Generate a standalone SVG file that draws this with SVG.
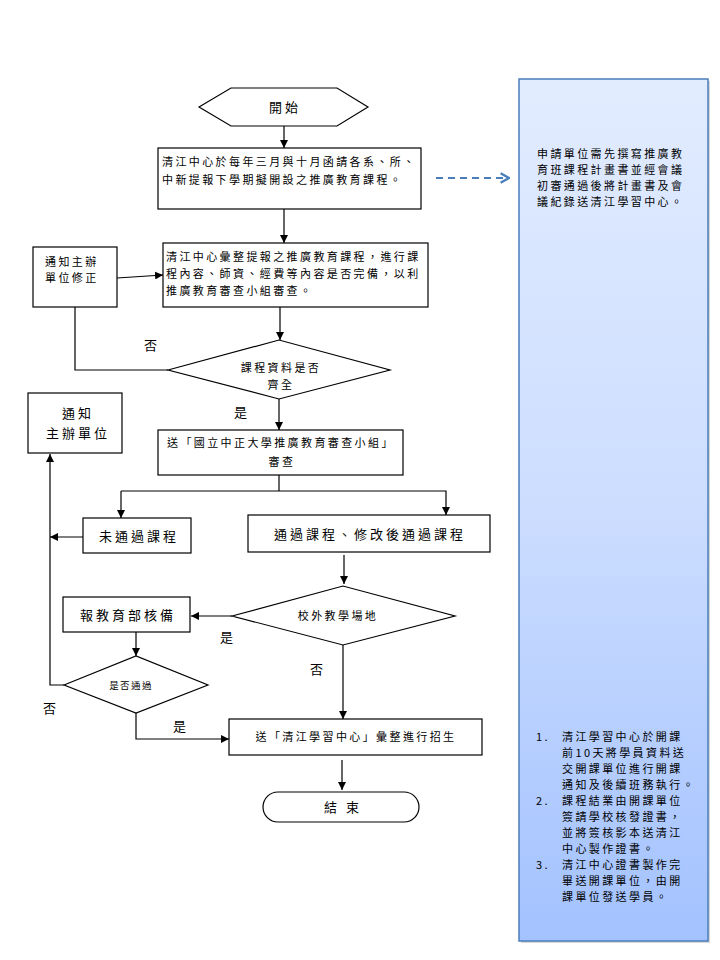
<svg xmlns="http://www.w3.org/2000/svg" width="720" height="960" viewBox="0 0 720 960">
<defs>
<style>
.t{font-family:"Noto Sans CJK TC","Noto Sans CJK SC",sans-serif;font-size:11px;letter-spacing:2.4px;fill:#000}
.m{font-size:13px;letter-spacing:3px}
.s{font-size:9.5px;letter-spacing:1.4px}
.box{fill:#fff;stroke:#000;stroke-width:1.2}
.ln{fill:none;stroke:#000;stroke-width:1.2}
</style>
<marker id="ah" viewBox="0 0 10 10" refX="10" refY="5" markerWidth="8" markerHeight="8" markerUnits="userSpaceOnUse" orient="auto">
<path d="M0,0 L10,5 L0,10 z" fill="#000"/>
</marker>
<marker id="oh" viewBox="0 0 10 10" refX="9" refY="5" markerWidth="12" markerHeight="12" markerUnits="userSpaceOnUse" orient="auto">
<path d="M2,1 L9,5 L2,9" fill="none" stroke="#4A7EBB" stroke-width="2"/>
</marker>
<linearGradient id="pg" x1="0" y1="0" x2="0" y2="1">
<stop offset="0" stop-color="#E2ECFF"/>
<stop offset="0.5" stop-color="#CCDDFF"/>
<stop offset="1" stop-color="#A3C2FF"/>
</linearGradient>
</defs>
<rect width="720" height="960" fill="#fff"/>

<g id="panel">
<rect x="521" y="81" width="189" height="862" fill="#bbb" opacity="0.6"/>
<rect x="519" y="79" width="189" height="862" fill="url(#pg)" stroke="#4A7EBB" stroke-width="1.5"/>
<text class="t" x="537" y="158">申請單位需先撰寫推廣教</text>
<text class="t" x="537" y="174">育班課程計畫書並經會議</text>
<text class="t" x="537" y="190">初審通過後將計畫書及會</text>
<text class="t" x="537" y="206">議紀錄送清江學習中心。</text>
<text class="t" x="536" y="741">1.</text>
<text class="t" x="562" y="741">清江學習中心於開課</text>
<text class="t" x="562" y="757">前10天將學員資料送</text>
<text class="t" x="562" y="773">交開課單位進行開課</text>
<text class="t" x="562" y="789">通知及後續班務執行。</text>
<text class="t" x="536" y="805">2.</text>
<text class="t" x="562" y="805">課程結業由開課單位</text>
<text class="t" x="562" y="821">簽請學校核發證書，</text>
<text class="t" x="562" y="837">並將簽核影本送清江</text>
<text class="t" x="562" y="853">中心製作證書。</text>
<text class="t" x="536" y="869">3.</text>
<text class="t" x="562" y="869">清江中心證書製作完</text>
<text class="t" x="562" y="885">畢送開課單位，由開</text>
<text class="t" x="562" y="901">課單位發送學員。</text>
</g>

<g id="start">
<polygon class="box" points="199,107 231,88 337,88 368,107 337,126 231,126"/>
<text class="t m" x="285" y="112" text-anchor="middle">開始</text>
</g>

<g id="collect">
<rect class="box" x="158" y="148" width="263" height="61"/>
<text class="t" x="162" y="166">清江中心於每年三月與十月函請各系、所、</text>
<text class="t" x="162" y="184">中新提報下學期擬開設之推廣教育課程。</text>
</g>

<g id="compile">
<rect class="box" x="163" y="243" width="265" height="64"/>
<text class="t" x="166" y="261">清江中心彙整提報之推廣教育課程，進行課</text>
<text class="t" x="166" y="278">程內容、師資、經費等內容是否完備，以利</text>
<text class="t" x="166" y="295">推廣教育審查小組審查。</text>
</g>

<g id="fix">
<rect class="box" x="33" y="247" width="84" height="60"/>
<text class="t" x="45" y="266">通知主辦</text>
<text class="t" x="45" y="282">單位修正</text>
</g>

<g id="d1">
<polygon class="box" points="168,370 279,340 390,370 279,399"/>
<text class="t" x="281" y="372" text-anchor="middle">課程資料是否</text>
<text class="t" x="281" y="389" text-anchor="middle">齊全</text>
</g>

<g id="review">
<rect class="box" x="158" y="430" width="245" height="45"/>
<text class="t" x="167" y="447">送「國立中正大學推廣教育審查小組」</text>
<text class="t" x="282" y="466" text-anchor="middle">審查</text>
</g>

<g id="notify">
<rect class="box" x="28" y="393" width="94" height="60"/>
<text class="t m" x="78" y="418" text-anchor="middle">通知</text>
<text class="t m" x="78" y="438" text-anchor="middle">主辦單位</text>
</g>

<g id="fail">
<rect class="box" x="83" y="518" width="108" height="35"/>
<text class="t m" x="139" y="541" text-anchor="middle">未通過課程</text>
</g>

<g id="pass">
<rect class="box" x="248" y="515" width="242" height="37"/>
<text class="t m" x="370" y="539" text-anchor="middle">通過課程、修改後通過課程</text>
</g>

<g id="d2">
<polygon class="box" points="232,616 343,586 455,616 343,645"/>
<text class="t" x="338" y="620" text-anchor="middle">校外教學場地</text>
</g>

<g id="moe">
<rect class="box" x="63" y="597" width="127" height="35"/>
<text class="t m" x="128" y="620" text-anchor="middle">報教育部核備</text>
</g>

<g id="d3">
<polygon class="box" points="64,685 136,656 208,685 136,713"/>
<text class="t s" x="131" y="689" text-anchor="middle">是否通過</text>
</g>

<g id="enrol">
<rect class="box" x="229" y="719" width="253" height="36"/>
<text class="t" x="356" y="741" text-anchor="middle">送「清江學習中心」彙整進行招生</text>
</g>

<g id="end">
<rect class="box" x="263" y="792" width="156" height="30" rx="15" ry="15"/>
<text class="t m" x="343" y="812" text-anchor="middle">結 束</text>
</g>

<g id="connectors">
<line class="ln" x1="284" y1="126" x2="284" y2="148" marker-end="url(#ah)"/>
<line class="ln" x1="284" y1="209" x2="284" y2="243" marker-end="url(#ah)"/>
<line x1="436" y1="178" x2="509" y2="178" stroke="#4A7EBB" stroke-width="2" stroke-dasharray="7,5" marker-end="url(#oh)"/>
<line class="ln" x1="117" y1="278" x2="163" y2="275" marker-end="url(#ah)"/>
<polyline class="ln" points="75,307 75,370 168,370"/>
<line class="ln" x1="280" y1="307" x2="280" y2="340" marker-end="url(#ah)"/>
<line class="ln" x1="279" y1="399" x2="279" y2="430" marker-end="url(#ah)"/>
<polyline class="ln" points="279,475 279,491"/>
<polyline class="ln" points="121,491 446,491 446,515" marker-end="url(#ah)"/>
<line class="ln" x1="121" y1="491" x2="121" y2="518" marker-end="url(#ah)"/>
<line class="ln" x1="83" y1="537" x2="50" y2="537" marker-end="url(#ah)"/>
<polyline class="ln" points="64,685 50,685 50,454" marker-end="url(#ah)"/>
<line class="ln" x1="344" y1="555" x2="344" y2="584" marker-end="url(#ah)"/>
<line class="ln" x1="232" y1="616" x2="191" y2="616" marker-end="url(#ah)"/>
<line class="ln" x1="136" y1="632" x2="136" y2="656" marker-end="url(#ah)"/>
<polyline class="ln" points="136,713 136,739 229,739" marker-end="url(#ah)"/>
<line class="ln" x1="343" y1="645" x2="343" y2="719" marker-end="url(#ah)"/>
<line class="ln" x1="342" y1="760" x2="342" y2="790" marker-end="url(#ah)"/>
<text class="t m" x="144" y="350">否</text>
<text class="t m" x="234" y="417">是</text>
<text class="t m" x="220" y="642">是</text>
<text class="t m" x="310" y="674">否</text>
<text class="t m" x="43" y="713">否</text>
<text class="t m" x="173" y="731">是</text>
</g>
</svg>
